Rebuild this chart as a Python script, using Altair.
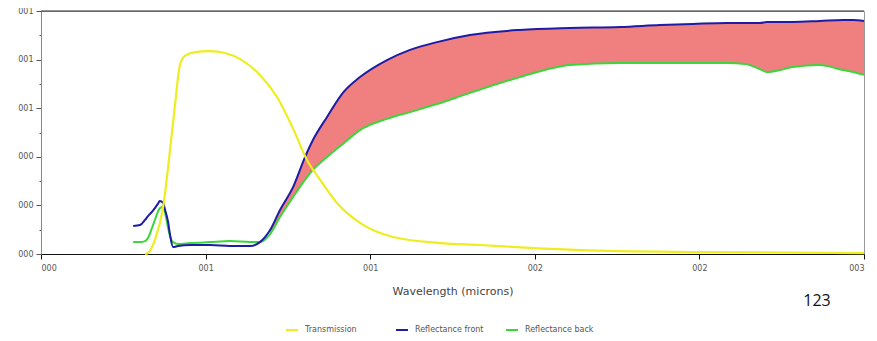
import altair as alt
import pandas as pd

# ---- data (wavelength in microns, value 0..1) ----
trans_wl = [0.316, 0.325, 0.346, 0.371, 0.392, 0.407, 0.422, 0.437, 0.468, 0.513,
            0.559, 0.605, 0.665, 0.717, 0.766, 0.808, 0.848, 0.899, 0.969, 1.069,
            1.212, 1.334, 1.485, 1.637, 2.002, 2.500]
trans = [0.000, 0.004, 0.058, 0.193, 0.428, 0.613, 0.778, 0.815, 0.831, 0.835,
         0.827, 0.802, 0.737, 0.646, 0.515, 0.387, 0.305, 0.210, 0.128, 0.070,
         0.045, 0.037, 0.025, 0.016, 0.008, 0.004]

refl_wl = [0.280, 0.301, 0.316, 0.325, 0.337, 0.346, 0.355, 0.361, 0.371, 0.377,
           0.386, 0.392, 0.401, 0.416, 0.453, 0.513, 0.574, 0.635,
           0.665, 0.696, 0.726, 0.766, 0.802, 0.826, 0.869, 0.917, 0.969, 1.051,
           1.121, 1.203, 1.303, 1.455, 1.607, 1.759, 1.880, 1.981, 2.084, 2.139,
           2.184, 2.205, 2.245, 2.284, 2.366, 2.436, 2.467, 2.500]
refl_front = [0.115, 0.119, 0.140, 0.156, 0.173, 0.189, 0.206, 0.218, 0.210, 0.181,
              0.132, 0.078, 0.029, 0.033, 0.037, 0.037, 0.033, 0.033,
              0.049, 0.099, 0.181, 0.276, 0.399, 0.469, 0.564, 0.663, 0.728, 0.798,
              0.840, 0.872, 0.901, 0.922, 0.930, 0.934, 0.942, 0.947, 0.951, 0.951,
              0.951, 0.955, 0.955, 0.955, 0.959, 0.963, 0.963, 0.959]
refl_back = [0.049, 0.049, 0.053, 0.066, 0.107, 0.140, 0.173, 0.189, 0.193, 0.169,
             0.107, 0.074, 0.049, 0.041, 0.045, 0.049, 0.053, 0.049,
             0.049, 0.082, 0.152, 0.235, 0.305, 0.346, 0.399, 0.453, 0.510, 0.556,
             0.584, 0.617, 0.663, 0.728, 0.778, 0.786, 0.786, 0.786, 0.786, 0.782,
             0.761, 0.749, 0.757, 0.770, 0.778, 0.757, 0.749, 0.737]

series_names = ["Transmission", "Reflectance front", "Reflectance back"]
series_colors = ["#eded1f", "#1c1ca6", "#3ad63a"]
x_ticks = [0.0, 0.5, 1.0, 1.5, 2.0, 2.5]
y_ticks = [0.0, 0.1, 0.2, 0.3, 0.4, 0.5, 0.6, 0.7, 0.8, 0.9, 1.0]
page_number = "123"

# ---- tables ----
lines = pd.concat([
    pd.DataFrame({"wl": trans_wl, "value": trans, "series": series_names[0]}),
    pd.DataFrame({"wl": refl_wl, "value": refl_front, "series": series_names[1]}),
    pd.DataFrame({"wl": refl_wl, "value": refl_back, "series": series_names[2]}),
], ignore_index=True)
band = pd.DataFrame({"wl": refl_wl, "front": refl_front, "back": refl_back})

W, H = 823, 243

x_enc = alt.X("wl:Q", scale=alt.Scale(domain=[0, 2.5], nice=False),
              axis=alt.Axis(values=x_ticks, title="Wavelength (microns)",
                            labelExpr="'00' + round(datum.value)",
                            grid=False, domainColor="#111", tickColor="#111",
                            tickSize=5, labelFontSize=8, labelColor="#555",
                            labelPadding=5, titleFontSize=11, titleColor="#444",
                            titleFontWeight="normal", titlePadding=13,
                            labelFont="DejaVu Sans", titleFont="DejaVu Sans"))
y_axis = alt.Axis(values=y_ticks, title=None, grid=False,
                  labelExpr="round(datum.value*10) % 2 == 0 ? '00' + round(datum.value) : ''",
                  tickSize={"condition": {"test": "round(datum.value*10) % 2 == 1", "value": 2}, "value": 5},
                  domainColor="#888", tickColor="#555", labelFontSize=8,
                  labelColor="#555", labelPadding=3, labelFont="DejaVu Sans")
y_scale = alt.Scale(domain=[0, 1], nice=False)

color = alt.Color("series:N",
                  scale=alt.Scale(domain=series_names, range=series_colors),
                  legend=alt.Legend(title=None, orient="none", legendX=244, legendY=312,
                                    direction="horizontal", columns=3, gridAlign="all",
                                    symbolType="stroke", symbolSize=144,
                                    symbolStrokeWidth=2, labelFontSize=8,
                                    labelColor="#555", labelOffset=6,
                                    columnPadding=18, labelFont="DejaVu Sans"))

area = alt.Chart(band).transform_filter("datum.wl >= 0.69").mark_area(
    color="#f08080", opacity=1, interpolate="monotone").encode(
    x=x_enc, y=alt.Y("back:Q", scale=y_scale, axis=y_axis), y2="front:Q")

def line_layer(name, width):
    return alt.Chart(lines).transform_filter(
        alt.datum.series == name).mark_line(strokeWidth=width, interpolate="monotone").encode(
        x=x_enc, y=alt.Y("value:Q", scale=y_scale, axis=y_axis), color=color,
        order="wl:Q")

top_rule = alt.Chart(pd.DataFrame({"a": [0]})).mark_rule(
    color="#333", strokeWidth=1.2).encode(
    x=alt.value(0), x2=alt.value(W), y=alt.value(0))

label = alt.Chart(pd.DataFrame({"t": [page_number]})).mark_text(
    fontSize=16, font="Open Sans", color="#111").encode(
    text="t:N", x=alt.value(776), y=alt.value(290))

chart = alt.layer(
    area,
    line_layer(series_names[2], 2),
    line_layer(series_names[1], 2),
    line_layer(series_names[0], 2.2),
    top_rule,
    label,
).properties(
    width=W, height=H,
    autosize=alt.AutoSizeParams(type="none"),
    padding={"left": 33, "top": 3, "right": 5, "bottom": 80},
    background="white",
).configure_view(stroke="#999", strokeWidth=1)

chart.save("out.html", embed_options={"renderer": "svg", "actions": False})
